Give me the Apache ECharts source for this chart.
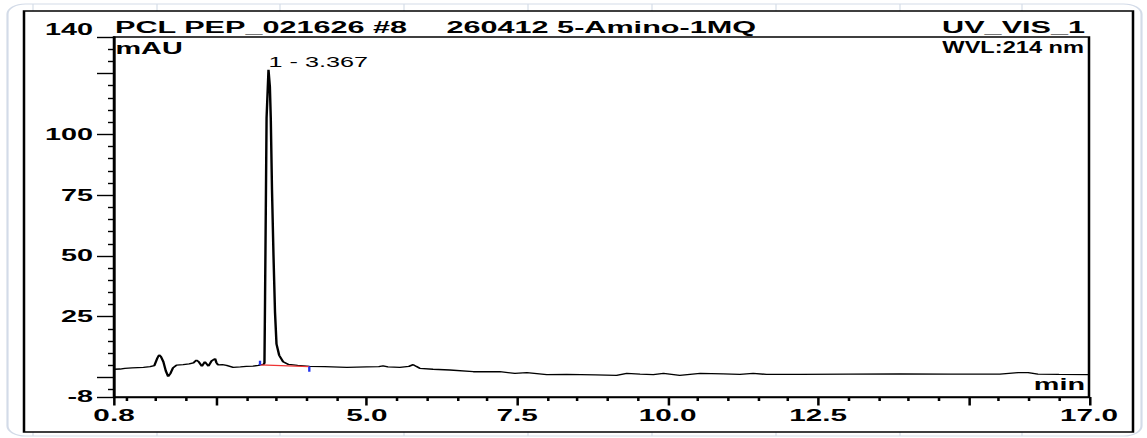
<!DOCTYPE html>
<html>
<head>
<meta charset="utf-8">
<script src="https://cdn.jsdelivr.net/npm/echarts@6/dist/echarts.min.js"></script>
<style>
  html, body { margin: 0; padding: 0; background: #ffffff; }
  #wrap { width: 1147px; height: 438px; overflow: hidden; position: relative; background: #ffffff; }
  #chart { width: 637px; height: 438px; transform: scaleX(1.800628); transform-origin: 0 0; }
</style>
</head>
<body>
<div id="wrap"><div id="chart"></div></div>
<script>
// ---- data (retention time in min, signal in mAU) ----
const times = [0.80,0.90,0.98,1.10,1.29,1.40,1.47,1.52,1.55,1.58,1.62,1.66,1.70,1.74,1.78,1.84,1.95,2.05,2.12,2.17,2.21,2.26,2.31,2.34,2.37,2.42,2.48,2.50,2.53,2.60,2.67,2.78,2.90,3.00,3.11,3.20,3.25,3.28,
  3.30,3.31,3.335,3.367,3.39,3.405,3.425,3.45,3.475,3.50,3.545,3.61,3.70,3.85,4.05,4.30,4.67,5.00,5.20,5.27,5.35,5.55,5.70,5.77,5.82,5.88,6.10,6.38,6.77,7.21,7.46,7.66,7.99,8.32,8.80,9.15,9.32,9.54,9.76,9.93,10.20,10.54,10.92,11.20,11.42,11.64,12.20,13.00,13.86,14.70,15.52,15.82,15.99,16.15,16.50,17.00];
const signal = [3.4,3.5,3.8,4.0,4.2,4.5,4.9,8.0,9.3,8.6,6.5,2.8,0.4,1.8,4.0,5.1,5.3,5.6,6.0,7.2,6.4,4.6,6.5,5.6,4.7,6.8,7.8,6.2,5.2,5.3,5.0,4.2,4.4,4.6,4.7,5.0,5.3,5.3,
  6.0,33.0,106.6,126.5,119.5,106.6,77.4,50.2,27.0,13.8,9.1,6.5,5.4,5.0,4.6,4.5,4.2,4.4,4.5,4.8,4.4,4.2,4.6,5.3,4.6,3.8,3.4,3.1,2.4,2.4,1.7,2.0,1.2,1.3,1.1,0.9,1.7,1.4,1.2,1.7,0.9,1.7,1.5,1.3,1.7,1.3,1.3,1.4,1.5,1.4,1.4,2.0,2.0,1.4,1.3,1.2];
// integration baseline of peak 1 and its delimiters
const baseTimes = [3.226, 4.045];
const baseValues = [5.2, 4.5];
const startMark = [6.9, 5.2];
const endMark = [4.5, 2.4];
const peakLabel = '1 - 3.367';
// axes
const xMin = 0.8, xMax = 17.0;
const yMin = -8, yMax = 140;
const xMajorTicks = [0.8, 2.5, 5.0, 7.5, 10.0, 12.5, 15.0, 17.0];
const xMinorTicks = [1.0,1.5,2.0,3.0,3.5,4.0,4.5,5.5,6.0,6.5,7.0,8.0,8.5,9.0,9.5,10.5,11.0,11.5,12.0,13.0,13.5,14.0,14.5,15.5,16.0,16.5];
const xTickLabels = [0.8, 5.0, 7.5, 10.0, 12.5, 17.0];
const yMajorTicks = [-8, 0, 25, 50, 75, 100, 125, 140];
const yMinorTicks = [-5,5,10,15,20,30,35,40,45,55,60,65,70,80,85,90,95,105,110,115,120,130,135];
const yTickLabels = [-8, 25, 50, 75, 100, 140];
// texts
const titleLeft = 'PCL PEP_021626 #8';
const titleMid = '260412 5-Amino-1MQ';
const titleRight = 'UV_VIS_1';
const yUnit = 'mAU';
const wavelength = 'WVL:214 nm';
const xUnit = 'min';

const S = 1147 / 637;
const X = px => px / S;
const FF = '"Liberation Sans", Arial, sans-serif';

const lineData = times.map((t, i) => [t, signal[i]]);
const baseData = baseTimes.map((t, i) => [t, baseValues[i]]);

const chart = echarts.init(document.getElementById('chart'), null, { renderer: 'svg' });

const bgElements = [];
// faint sheet background and rounded border
[33, 157, 280, 404, 528, 652, 776, 900, 1022].forEach(px => {
  bgElements.push({ type: 'line', z: -20, shape: { x1: X(px), y1: 4, x2: X(px), y2: 436 }, style: { stroke: '#e4e9f0', lineWidth: 1 } });
});
bgElements.push({ type: 'rect', z: -19, shape: { x: X(7.5), y: 4, width: X(1141.5 - 7.5), height: 432, r: 10 }, style: { fill: 'none', stroke: '#d3dbe8', lineWidth: 1.2 } });
bgElements.push({ type: 'rect', z: -18, shape: { x: X(24), y: 11, width: X(1133 - 24), height: 421 }, style: { fill: '#ffffff', stroke: '#000000', lineWidth: 1.4 } });

const txt = (text, px, y, align, font, extra) => Object.assign({
  type: 'text', z: 50, x: X(px), y: y,
  style: { text: text, fill: '#000', font: font, align: align, verticalAlign: 'middle' }
}, extra || {});

const textElements = [
  txt(titleLeft, 115, 27.5, 'left', 'bold 17px ' + FF),
  txt(titleMid, 446.5, 27.5, 'left', 'bold 17px ' + FF),
  txt(titleRight, 1085, 27.5, 'right', 'bold 17px ' + FF),
  txt(yUnit, 115.5, 48.5, 'left', 'bold 16px ' + FF),
  txt(wavelength, 1084, 47.5, 'right', 'bold 16px ' + FF, { scaleX: 0.82 }),
  txt(peakLabel, 268.5, 62, 'left', '14px ' + FF),
  txt(xUnit, 1085, 385, 'right', 'bold 16px ' + FF)
];

const axisLineStyle = { color: '#000', width: 1.4 };

const option = {
  animation: false,
  backgroundColor: 'transparent',
  grid: {
    left: X(114), right: X(1147 - 1089), top: 37, bottom: 41,
    show: true, borderColor: '#000', borderWidth: 1.4, backgroundColor: 'transparent'
  },
  xAxis: [
    {
      type: 'value', min: xMin, max: xMax, position: 'bottom',
      axisLine: { show: true, onZero: false, lineStyle: axisLineStyle },
      axisTick: { show: true, inside: false, length: 8.5, customValues: xMajorTicks, lineStyle: axisLineStyle },
      axisLabel: {
        show: true, customValues: xTickLabels, margin: 10,
        formatter: v => Number(v).toFixed(1),
        color: '#000', fontSize: 16.5, fontWeight: 'bold', fontFamily: FF
      },
      splitLine: { show: false }
    },
    {
      type: 'value', min: xMin, max: xMax, position: 'bottom',
      axisLine: { show: false, onZero: false },
      axisTick: { show: true, inside: false, length: 4, customValues: xMinorTicks, lineStyle: axisLineStyle },
      axisLabel: { show: false },
      splitLine: { show: false }
    }
  ],
  yAxis: [
    {
      type: 'value', min: yMin, max: yMax, position: 'left',
      axisLine: { show: true, onZero: false, lineStyle: axisLineStyle },
      axisTick: { show: true, inside: false, length: X(17), customValues: yMajorTicks, lineStyle: axisLineStyle },
      axisLabel: {
        show: true, customValues: yTickLabels, margin: X(21),
        formatter: v => (v === yMax ? '{top|' + v + '}' : String(v)),
        color: '#000', fontSize: 16, fontWeight: 'bold', fontFamily: FF,
        rich: { top: { color: '#000', fontSize: 16, fontWeight: 'bold', fontFamily: FF, padding: [0, 0, 14, 0] } }
      },
      splitLine: { show: false }
    },
    {
      type: 'value', min: yMin, max: yMax, position: 'left',
      axisLine: { show: false, onZero: false },
      axisTick: { show: true, inside: false, length: X(6), customValues: yMinorTicks, lineStyle: axisLineStyle },
      axisLabel: { show: false },
      splitLine: { show: false }
    }
  ],
  series: [
    {
      type: 'line', xAxisIndex: 0, yAxisIndex: 0, data: lineData,
      showSymbol: false, symbol: 'none', silent: true,
      lineStyle: { color: '#000', width: 1.35 }, z: 3
    },
    {
      type: 'line', xAxisIndex: 0, yAxisIndex: 0, data: baseData,
      showSymbol: false, symbol: 'none', silent: true,
      lineStyle: { color: '#ee3333', width: 1.4 }, z: 4
    },
    {
      type: 'line', xAxisIndex: 0, yAxisIndex: 0,
      data: [[baseTimes[0], startMark[0]], [baseTimes[0], startMark[1]]],
      showSymbol: false, symbol: 'none', silent: true,
      lineStyle: { color: '#2233ee', width: 1.3 }, z: 5
    },
    {
      type: 'line', xAxisIndex: 0, yAxisIndex: 0,
      data: [[baseTimes[1], endMark[0]], [baseTimes[1], endMark[1]]],
      showSymbol: false, symbol: 'none', silent: true,
      lineStyle: { color: '#2233ee', width: 1.3 }, z: 5
    }
  ],
  graphic: { elements: bgElements.concat(textElements) }
};
chart.setOption(option);
</script>
</body>
</html>
